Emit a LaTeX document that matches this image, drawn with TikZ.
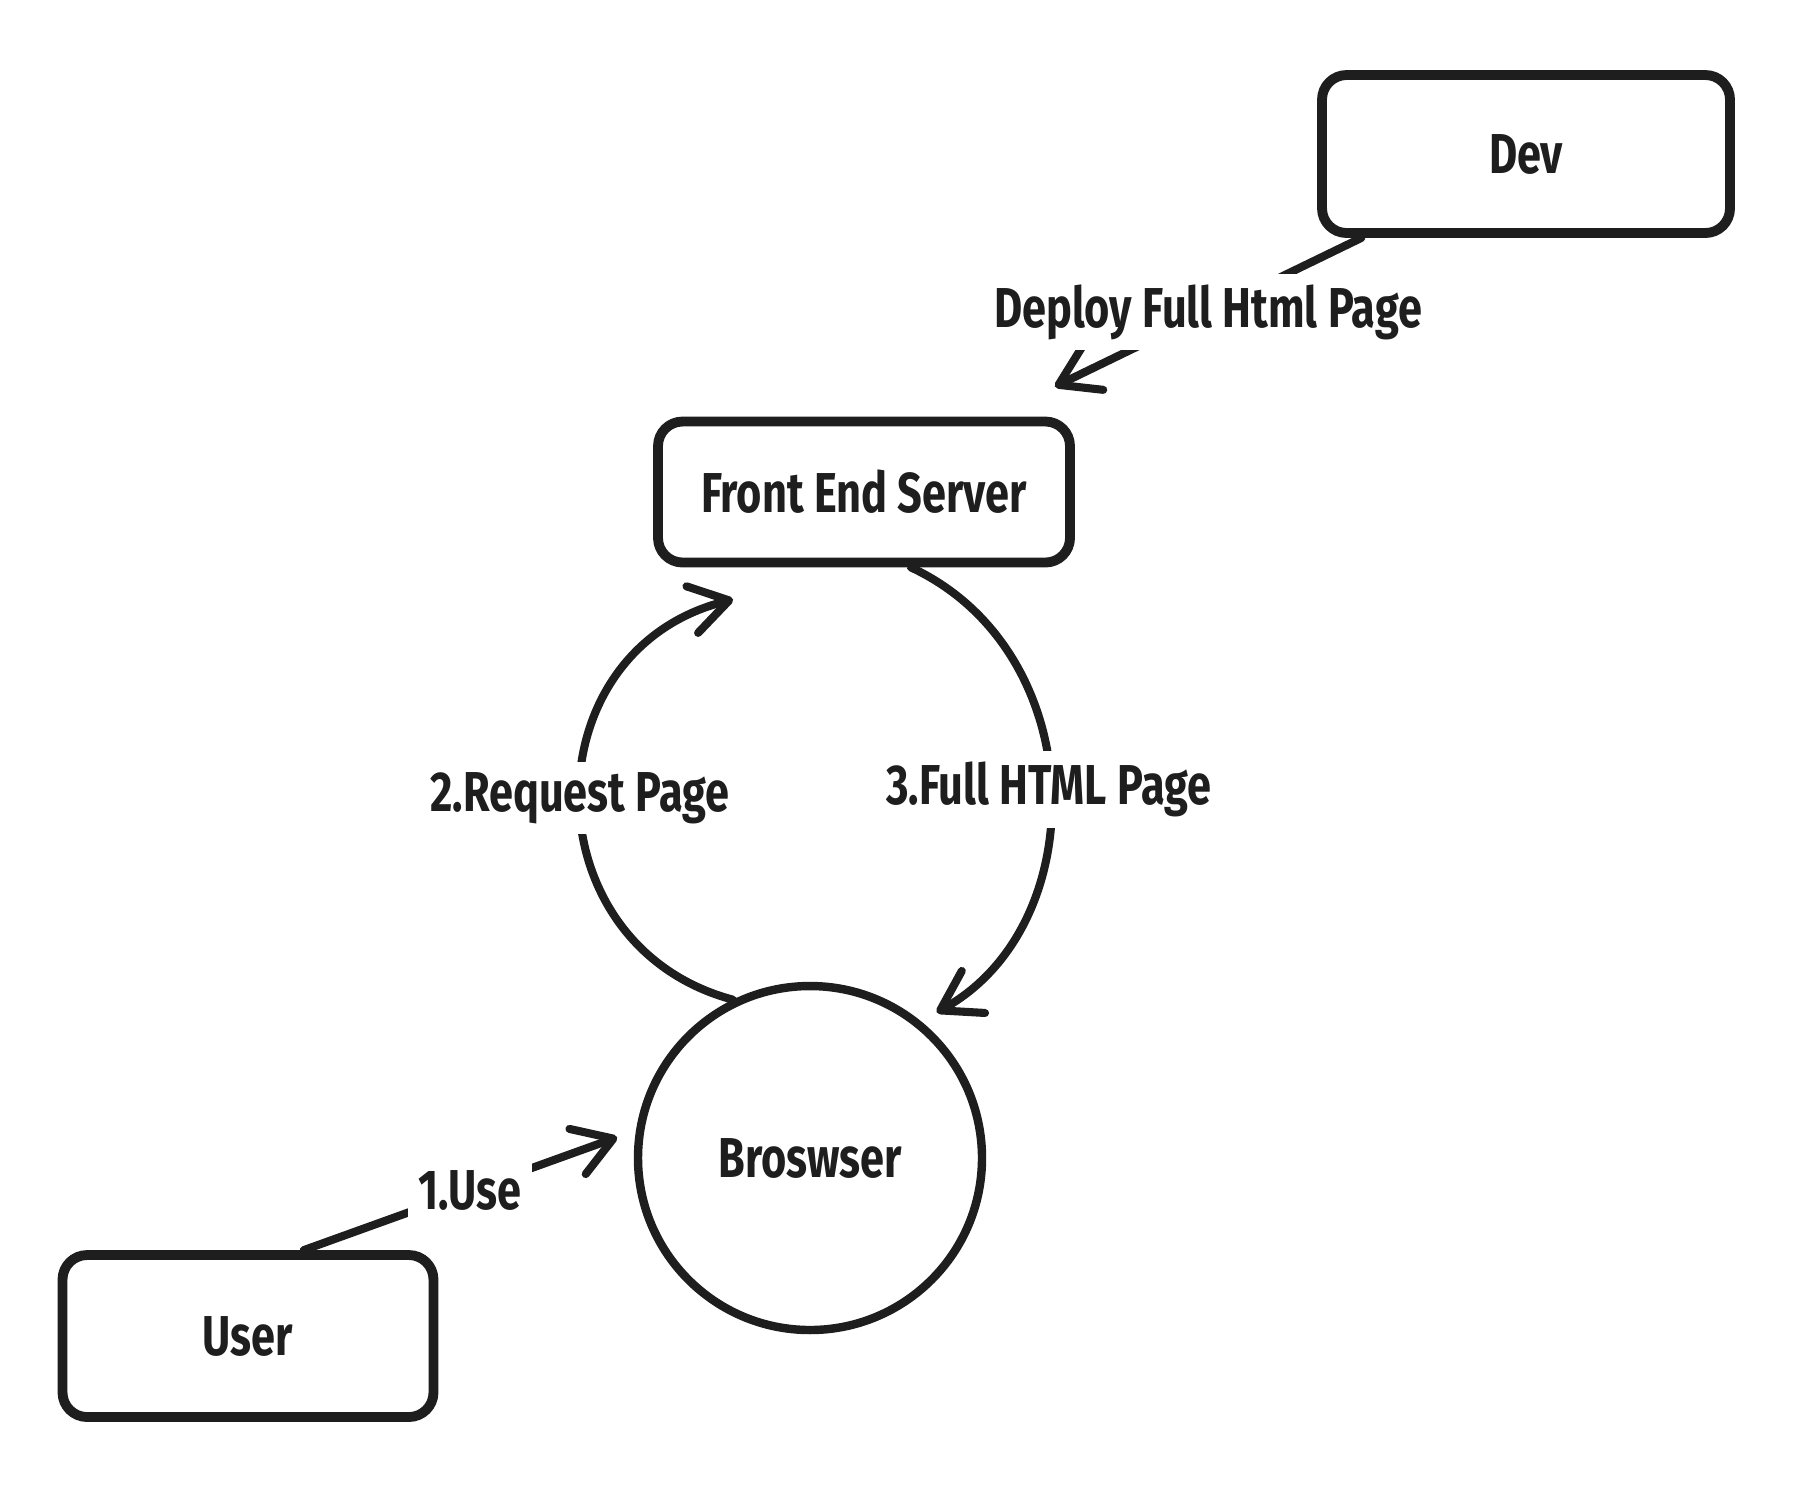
\documentclass[tikz,border=0pt]{standalone}
\usepackage{fontspec}
\newfontfamily\handfont{Fira Sans}[FakeStretch=0.77]
\usetikzlibrary{arrows.meta, calc}
\definecolor{MyInk}{HTML}{1E1E1E}

\begin{document}
\begin{tikzpicture}[
			every node/.style={font=\handfont\bfseries\fontsize{16}{19}\selectfont,text=MyInk,align=center},
			box/.style={draw=MyInk,line width=2.8pt,rectangle,rounded corners=7pt,fill=white},
			circ/.style={draw=MyInk,line width=2.4pt,circle,minimum size=3.44cm,inner sep=0pt,fill=white},
			legend/.style={draw=none,fill=white,inner sep=3pt},
			flow/.style={draw=MyInk,line width=2.3pt,line cap=round,-{Straight Barb[length=3.8mm,width=4.8mm,round]}}
		]
			\useasboundingbox (0,0) rectangle (17.93,-14.94);
			\node at (15.26,-1.54) [box,minimum width=4.08cm,minimum height=1.58cm] (nodeDev) {Dev};
			\node at (8.64,-4.92) [box,minimum width=4.12cm,minimum height=1.41cm] (nodeServer) {Front End Server};
			\node at (2.48,-13.36) [box,minimum width=3.71cm,minimum height=1.62cm] (nodeUser) {User};
			\node at (8.10,-11.58) [circ] (nodeBrowser) {Broswser};
			\draw[flow, shorten >=0.2cm] (nodeUser.57) -- node [legend] {1.Use} (nodeBrowser.171);
			\draw[flow] (nodeDev.207) -- node [legend] {Deploy Full Html Page} ($(nodeServer.north east)+(-0.2,0.3)$);
			\draw[flow] (nodeBrowser.116) to[out=165,in=194,looseness=1.35] node [legend] {2.Request Page} ($(nodeServer.south west)+(0.8,-0.32)$);
			\draw[flow, shorten >=0.18cm] ($(nodeServer.south)+(0.47,0)$) to[out=-25,in=29,looseness=1.12] node [legend] {3.Full HTML Page} (nodeBrowser.51);
		\end{tikzpicture}
\end{document}
